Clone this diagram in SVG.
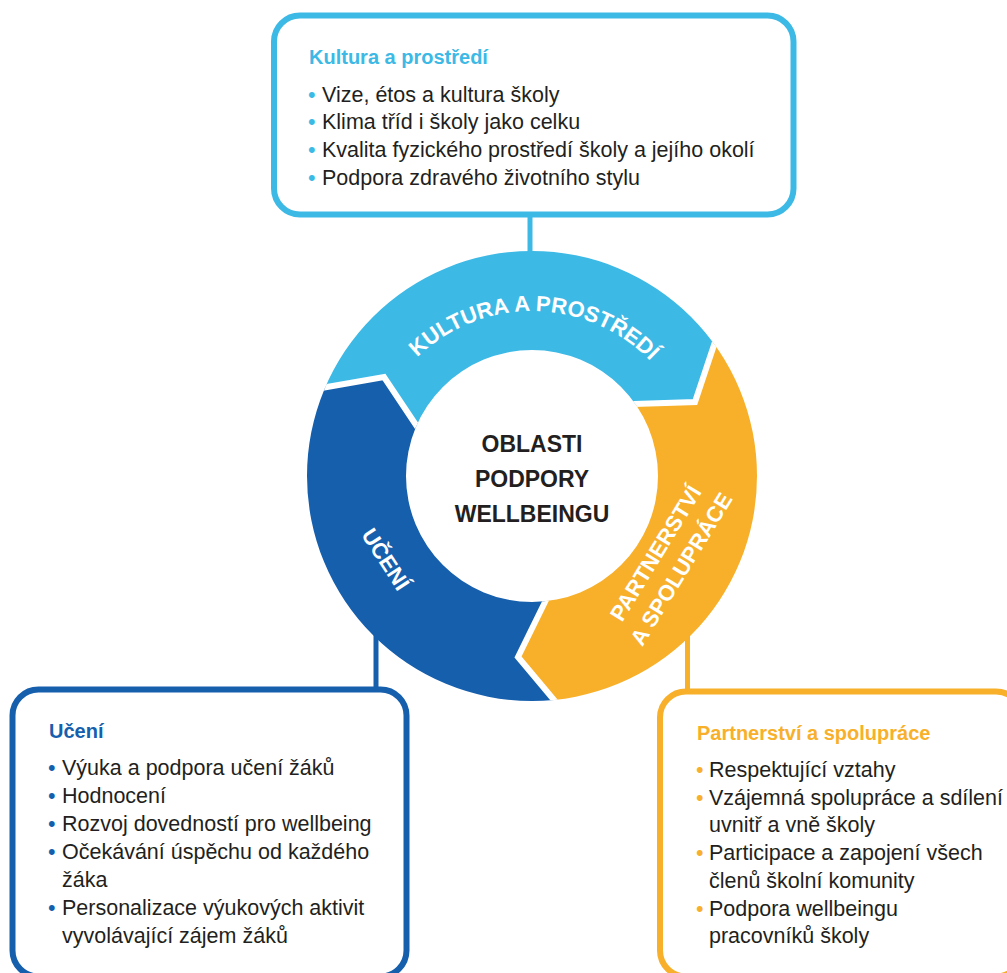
<svg xmlns="http://www.w3.org/2000/svg" width="1007" height="973" viewBox="0 0 1007 973">
<style>
.box{fill:#fff;stroke-width:6}
.title{font-family:"Liberation Sans",Arial,sans-serif;font-weight:bold;font-size:20px}
.body{font-family:"Liberation Sans",Arial,sans-serif;font-size:21.5px;fill:#231f20}
.ring{font-family:"Liberation Sans",Arial,sans-serif;font-weight:bold;font-size:22px;fill:#fff}
.center{font-family:"Liberation Sans",Arial,sans-serif;font-weight:bold;font-size:23px;fill:#231f20}
.gap{fill:none;stroke:#fff;stroke-width:6;stroke-linejoin:miter}
.cyan{fill:#3db9e6}.blue{fill:#165fad}.orange{fill:#f8b02a}
</style>
<defs>
<clipPath id="ringclip"><path clip-rule="evenodd" d="M307,476 A225,225 0 1,0 757,476 A225,225 0 1,0 307,476 Z M406,476 A126,126 0 1,1 658,476 A126,126 0 1,1 406,476 Z"/></clipPath>
<path id="arcTop" d="M367,476 A165,165 0 0,1 697,476"/>
</defs>
<g id="connectors" fill="none" stroke-width="5">
<line x1="530" y1="214" x2="530" y2="256" stroke="#3db9e6"/>
<line x1="376" y1="625" x2="376" y2="690" stroke="#165fad"/>
<line x1="687.5" y1="625" x2="687.5" y2="692" stroke="#f8b02a"/>
</g>
<g id="ring">
<g id="seg-kultura">
<polygon class="cyan" clip-path="url(#ringclip)" points="532,476 430,446 416,425 384,377 327,387 184,412 100,50 900,50 771,174 714,345 695,402 634,404 615,405"/>
<text class="ring"><textPath href="#arcTop" startOffset="50.5%" text-anchor="middle">KULTURA A PROSTŘEDÍ</textPath></text>
</g>
<g id="seg-partnerstvi">
<polygon class="orange" clip-path="url(#ringclip)" points="532,476 615,405 634,404 695,402 714,345 771,174 950,100 950,900 662,829 554,700 518,657 545,602 556,580"/>
<text class="ring" transform="translate(668,561) rotate(-58.5)" text-anchor="middle"><tspan x="0" y="-7">PARTNERSTVÍ</tspan><tspan x="0" y="23">A SPOLUPRÁCE</tspan></text>
</g>
<g id="seg-uceni">
<polygon class="blue" clip-path="url(#ringclip)" points="532,476 556,580 545,602 518,657 554,700 662,829 100,900 100,420 184,412 327,387 384,377 416,425 430,446"/>
<text class="ring" transform="translate(386,559) rotate(57)" y="8" text-anchor="middle">UČENÍ</text>
</g>
<g clip-path="url(#ringclip)">
<polyline class="gap" points="184,412 327,387 384,377 416,425 430,446"/>
<polyline class="gap" points="771,174 714,345 695,402 634,404 615,405"/>
<polyline class="gap" points="662,829 554,700 518,657 545,602 556,580"/>
</g>
</g>
<g id="node-center">
<text class="center" x="532" y="452" text-anchor="middle">OBLASTI</text>
<text class="center" x="532" y="487" text-anchor="middle">PODPORY</text>
<text class="center" x="532" y="522" text-anchor="middle">WELLBEINGU</text>
</g>
<g id="node-kultura">
<rect class="box" x="274" y="15.5" width="519.5" height="199" rx="26" stroke="#3db9e6"/>
<text class="title" x="309" y="64" fill="#3db9e6">Kultura a prostředí</text>
<g class="body">
<text x="308" y="101.5" fill="#3db9e6">•</text><text x="322" y="101.5">Vize, étos a kultura školy</text>
<text x="308" y="129.2" fill="#3db9e6">•</text><text x="322" y="129.2">Klima tříd i školy jako celku</text>
<text x="308" y="156.9" fill="#3db9e6">•</text><text x="322" y="156.9">Kvalita fyzického prostředí školy a jejího okolí</text>
<text x="308" y="184.6" fill="#3db9e6">•</text><text x="322" y="184.6">Podpora zdravého životního stylu</text>
</g>
</g>
<g id="node-uceni">
<rect class="box" x="12.5" y="689.5" width="394" height="287" rx="26" stroke="#165fad"/>
<text class="title" x="49" y="738" fill="#165fad">Učení</text>
<g class="body">
<text x="48" y="775" fill="#165fad">•</text><text x="62" y="775">Výuka a podpora učení žáků</text>
<text x="48" y="803" fill="#165fad">•</text><text x="62" y="803">Hodnocení</text>
<text x="48" y="831" fill="#165fad">•</text><text x="62" y="831">Rozvoj dovedností pro wellbeing</text>
<text x="48" y="859" fill="#165fad">•</text><text x="62" y="859">Očekávání úspěchu od každého</text>
<text x="62" y="887">žáka</text>
<text x="48" y="915" fill="#165fad">•</text><text x="62" y="915">Personalizace výukových aktivit</text>
<text x="62" y="943">vyvolávající zájem žáků</text>
</g>
</g>
<g id="node-partnerstvi">
<rect class="box" x="660" y="691.5" width="362" height="285" rx="26" stroke="#f8b02a"/>
<text class="title" x="697" y="740" fill="#f8b02a">Partnerství a spolupráce</text>
<g class="body">
<text x="696" y="777" fill="#f8b02a">•</text><text x="709" y="777">Respektující vztahy</text>
<text x="696" y="804.7" fill="#f8b02a">•</text><text x="709" y="804.7">Vzájemná spolupráce a sdílení</text>
<text x="709" y="832.4">uvnitř a vně školy</text>
<text x="696" y="860.1" fill="#f8b02a">•</text><text x="709" y="860.1">Participace a zapojení všech</text>
<text x="709" y="887.8">členů školní komunity</text>
<text x="696" y="915.5" fill="#f8b02a">•</text><text x="709" y="915.5">Podpora wellbeingu</text>
<text x="709" y="943.2">pracovníků školy</text>
</g>
</g>
</svg>
